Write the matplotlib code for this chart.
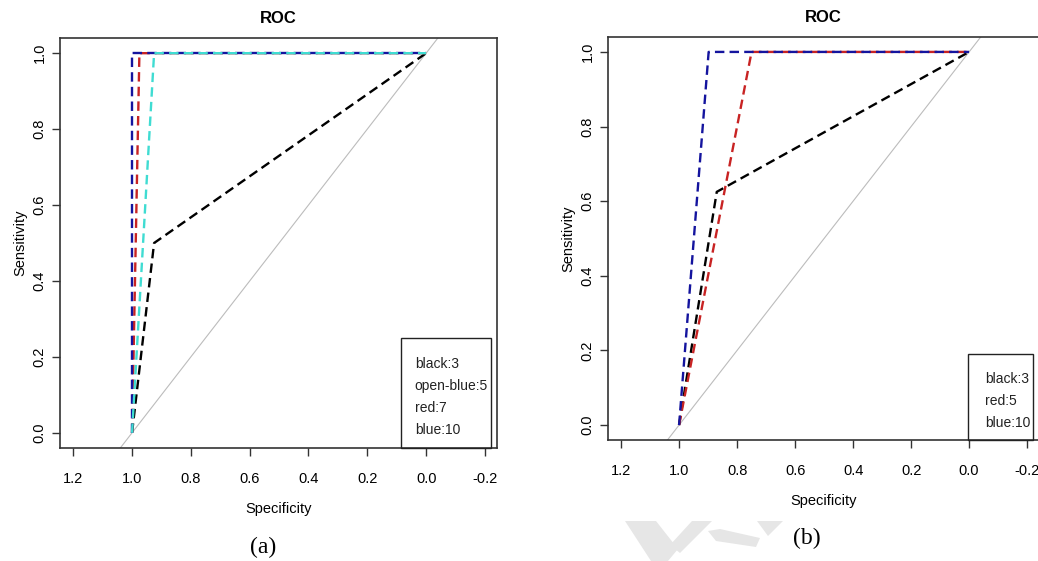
import matplotlib
matplotlib.use("Agg")
import matplotlib.pyplot as plt
from matplotlib.patches import Rectangle, Polygon

plt.rcParams['font.family'] = ['Liberation Sans', 'DejaVu Sans']
plt.rcParams['axes.unicode_minus'] = False

# ---------------------------- dados (especificidade, sensibilidade)
# painel (a)
a_black_spec = [1.0, 0.925, 0.0]
a_black_sens = [0.0, 0.5, 1.0]
a_cyan_spec = [1.0, 0.925, 0.0]
a_cyan_sens = [0.0, 1.0, 1.0]
a_red_spec = [1.0, 0.975, 0.0]
a_red_sens = [0.0, 1.0, 1.0]
a_blue_spec = [1.0, 1.0, 0.0]
a_blue_sens = [0.0, 1.0, 1.0]
a_legend = ["black:3", "open-blue:5", "red:7", "blue:10"]

# painel (b)
b_black_spec = [1.0, 0.87, 0.0]
b_black_sens = [0.0, 0.625, 1.0]
b_red_spec = [1.0, 0.75, 0.0]
b_red_sens = [0.0, 1.0, 1.0]
b_blue_spec = [1.0, 0.898, 0.0]
b_blue_sens = [0.0, 1.0, 1.0]
b_legend = ["black:3", "red:5", "blue:10"]

xticks = [1.2, 1.0, 0.8, 0.6, 0.4, 0.2, 0.0, -0.2]
yticks = [0.0, 0.2, 0.4, 0.6, 0.8, 1.0]

BLACK = "black"
CYAN = "#3fdcd2"
RED = "#c82323"
BLUE = "#14149e"
DASH = (0, (4, 2.2))


def painel(ax, curvas, legenda, box):
    ax.axline((1, 0), (0, 1), color="#bcbcbc", lw=0.8, zorder=1)
    for spec, sens, cor in curvas:
        ax.plot(spec, sens, color=cor, lw=1.7, linestyle=DASH, zorder=2)

    ax.set_xlim(1.245, -0.241)
    ax.set_ylim(-0.04, 1.04)
    ax.set_xticks(xticks)
    ax.set_xticklabels([f"{t:.1f}" for t in xticks])
    ax.set_yticks(yticks)
    ax.set_yticklabels([f"{t:.1f}" for t in yticks])
    plt.setp(ax.get_yticklabels(), rotation=90, va="center")
    ax.tick_params(axis="both", direction="out", length=6, width=1,
                   color="#333333", labelsize=10.5, pad=11)
    ax.tick_params(axis="y", pad=3.5)
    for s in ax.spines.values():
        s.set_color("#333333")
        s.set_linewidth(1.2)

    ax.set_title("ROC", fontweight="bold", fontsize=12, pad=10.5)
    ax.set_xlabel("Specificity", fontsize=10.5, labelpad=12)
    ax.set_ylabel("Sensitivity", fontsize=10.5, labelpad=4)

    # caixa de legenda (sem símbolos, como no original)
    x0, x1, y1, tx, step = box
    ax.add_patch(Rectangle((x0, 0), x1 - x0, y1, transform=ax.transAxes,
                           fill=False, edgecolor="#222222", lw=1.0,
                           clip_on=False, zorder=3))
    for i, txt in enumerate(legenda):
        ax.text(tx, y1 - step * (i + 1) - 0.008, txt, transform=ax.transAxes,
                fontsize=10, va="center", ha="left", color="#222222")


fig = plt.figure(figsize=(10.38, 5.61), dpi=100)

ax1 = fig.add_axes([60 / 1038, 113 / 561, 437 / 1038, 410 / 561])
painel(ax1,
       [(a_black_spec, a_black_sens, BLACK),
        (a_red_spec, a_red_sens, RED),
        (a_blue_spec, a_blue_sens, BLUE),
        (a_cyan_spec, a_cyan_sens, CYAN)],
       a_legend, (0.780, 0.986, 0.268, 0.812, 0.054))

ax2 = fig.add_axes([608 / 1038, 121 / 561, 431 / 1038, 403 / 561])
painel(ax2,
       [(b_black_spec, b_black_sens, BLACK),
        (b_red_spec, b_red_sens, RED),
        (b_blue_spec, b_blue_sens, BLUE)],
       b_legend, (0.835, 0.986, 0.213, 0.874, 0.054))

# marca d'água cinza clara atrás do "(b)"
marcas = [
    [(625, 521), (656, 521), (678, 549), (668, 561), (651, 561)],
    [(692, 521), (712, 521), (680, 553), (670, 545)],
    [(708, 531), (720, 529), (760, 538), (756, 547), (716, 541)],
    [(757, 521), (783, 521), (768, 536)],
]
for m in marcas:
    pts = [(x / 1038, 1 - y / 561) for x, y in m]
    fig.patches.append(Polygon(pts, closed=True, transform=fig.transFigure,
                               facecolor="#e6e6e6", edgecolor="none", zorder=0))

fig.text(263 / 1038, 1 - 547 / 561, "(a)", family="Liberation Serif",
         fontsize=17, ha="center", va="center")
fig.text(807 / 1038, 1 - 538 / 561, "(b)", family="Liberation Serif",
         fontsize=17, ha="center", va="center")

fig.savefig("out.png", dpi=100)
